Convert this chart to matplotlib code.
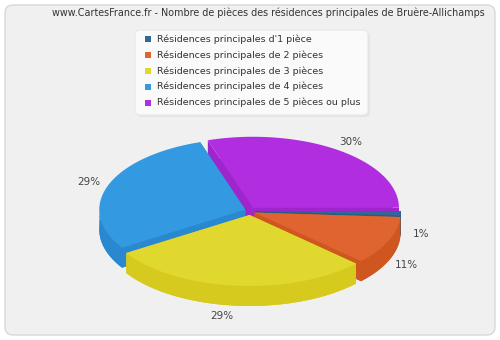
import numpy as np
import matplotlib
matplotlib.use("Agg")
import matplotlib.pyplot as plt
from matplotlib.patches import Polygon, FancyBboxPatch, Rectangle

# data
labels = ["Résidences principales d'1 pièce",
          "Résidences principales de 2 pièces",
          "Résidences principales de 3 pièces",
          "Résidences principales de 4 pièces",
          "Résidences principales de 5 pièces ou plus"]
values = [1, 11, 29, 29, 30]
pct_labels = ["1%", "11%", "29%", "29%", "30%"]
top_colors = ["#336699", "#e0642f", "#e0d72f", "#3399e0", "#b02ee0"]
side_colors = ["#2a5a88", "#d0561f", "#d6ca1f", "#2a88d0", "#9f25cc"]
title = "www.CartesFrance.fr - Nombre de pièces des résidences principales de Bruère-Allichamps"

plt.rcParams['font.family'] = ['DejaVu Sans']

fig = plt.figure(figsize=(5, 3.4), dpi=100)
fig.patch.set_facecolor("white")
ax = fig.add_axes([0, 0, 1, 1])
ax.set_xlim(0, 500)
ax.set_ylim(340, 0)
ax.axis("off")

# background panel
ax.add_patch(FancyBboxPatch((5, 5), 490, 330, boxstyle="round,pad=0,rounding_size=8",
                            fc="#f0f0f0", ec="#d8d8d8", lw=1))
ax.text(268, 13, title, ha="center", va="center", fontsize=6.9, color="#333333")

# legend
ax.add_patch(FancyBboxPatch((137, 32), 233, 85, boxstyle="round,pad=0,rounding_size=5",
                            fc="#e4e4e4", ec="none"))
ax.add_patch(FancyBboxPatch((135, 30), 233, 85, boxstyle="round,pad=0,rounding_size=5",
                            fc="#fafafa", ec="#e8e8e8", lw=0.8))
for i, (lab, col) in enumerate(zip(labels, top_colors)):
    y = 39 + i * 15.9
    ax.add_patch(Rectangle((145, y - 3), 6, 6, fc=col, ec="none"))
    ax.text(157, y, lab, ha="left", va="center", fontsize=6.8, color="#333333")

# 3D pie
cx, cy = 250, 211
rx, ry = 146, 71
depth = 20
explode = 5

fracs = np.array(values) / np.sum(values)
ends = -np.cumsum(fracs) * 360
starts = np.concatenate([[0], ends[:-1]])


def pt(a, ox, oy, dz=0):
    r = np.radians(a)
    return ox + rx * np.cos(r), oy - ry * np.sin(r) + dz


slices = []
for i in range(len(values)):
    a0, a1 = starts[i], ends[i]
    mid = np.radians((a0 + a1) / 2)
    ox = cx + explode * np.cos(mid)
    oy = cy - explode * np.sin(mid) * 0.8
    slices.append((i, a0, a1, ox, oy, mid))

# back to front
order = sorted(slices, key=lambda s: -np.sin(s[5]))
for i, a0, a1, ox, oy, mid in order:
    angs = np.linspace(a0, a1, 80)
    r = np.radians(angs)
    xs = ox + rx * np.cos(r)
    ys = oy - ry * np.sin(r)
    top = np.column_stack([np.concatenate([[ox], xs]), np.concatenate([[oy], ys])])
    bottom = top + np.array([0, depth])
    ax.add_patch(Polygon(bottom, closed=True, fc=side_colors[i], ec="none"))
    for a in (a0, a1):
        ex, ey = pt(a, ox, oy)
        ax.add_patch(Polygon([(ox, oy), (ex, ey), (ex, ey + depth), (ox, oy + depth)],
                             closed=True, fc=side_colors[i], ec="none"))
    # outer wall, front half only
    fr = angs[np.sin(np.radians(angs)) <= 0]
    if len(fr) > 1:
        rr = np.radians(fr)
        wx = ox + rx * np.cos(rr)
        wy = oy - ry * np.sin(rr)
        wall = np.column_stack([np.concatenate([wx, wx[::-1]]),
                                np.concatenate([wy, wy[::-1] + depth])])
        ax.add_patch(Polygon(wall, closed=True, fc=side_colors[i], ec="none"))
    ax.add_patch(Polygon(top, closed=True, fc=top_colors[i], ec="none"))

# percentage labels
for i, a0, a1, ox, oy, mid in slices:
    lx = cx + rx * 1.17 * np.cos(mid)
    ly = cy - ry * 1.2 * np.sin(mid)
    if np.sin(mid) < 0:
        ly += depth
    if abs(np.cos(mid)) < 0.3:
        lx -= 12
    ax.text(lx, ly, pct_labels[i], ha="center", va="center", fontsize=7.5, color="#444444")

fig.savefig("out.png", dpi=100, facecolor=fig.get_facecolor())
